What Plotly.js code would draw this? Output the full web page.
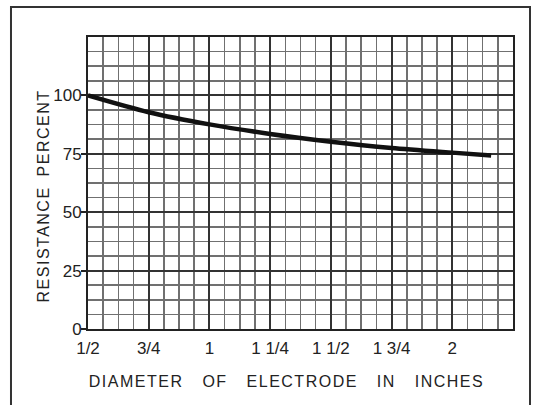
<!DOCTYPE html>
<html><head><meta charset="utf-8">
<script src="https://cdn.plot.ly/plotly-3.0.1.min.js"></script>
<style>
html,body{margin:0;padding:0;background:#fff;}
#chart{width:538px;height:405px;}
.xtitle{letter-spacing:1.5px;word-spacing:13px;}
.ytitle{letter-spacing:1.5px;word-spacing:4px;}
.g-xtitle{transform:translate(-14px,0px);}
.g-ytitle{transform:translate(8px,13px);}
</style></head><body><div id="chart"></div>
<script>
const diameterInches = [0.5, 0.75, 1.0, 1.25, 1.5, 1.75, 2.0, 2.16];
const resistancePercent = [100, 92.8, 87.6, 83.5, 80.2, 77.5, 75.5, 74.3];
const xTickValues = [0.5, 0.75, 1, 1.25, 1.5, 1.75, 2];
const xTickLabels = ["1/2", "3/4", "1", "1 1/4", "1 1/2", "1 3/4", "2"];
const yTickValues = [0, 25, 50, 75, 100];
const yTickLabels = ["0", "25", "50", "75", "100"];

const FONT = '"Liberation Sans", Arial, sans-serif';
const trace = {
  x: diameterInches, y: resistancePercent,
  type: 'scatter', mode: 'lines',
  line: {color: '#111', width: 4.5, shape: 'spline', smoothing: 0.8},
  hoverinfo: 'skip', showlegend: false
};
const layout = {
  width: 538, height: 405,
  margin: {l: 88, r: 25, t: 37, b: 76, pad: 0},
  paper_bgcolor: '#fff', plot_bgcolor: '#fff',
  font: {family: FONT, color: '#222', size: 16},
  xaxis: {
    range: [0.5, 2.25], tickmode: 'array', tickvals: xTickValues, ticktext: xTickLabels,
    showgrid: true, gridcolor: '#333', gridwidth: 2,
    minor: {tickmode: 'linear', tick0: 0.5, dtick: 0.0625, showgrid: true, gridcolor: '#707070', gridwidth: 1.6, ticks: ''},
    showline: true, linecolor: '#222', linewidth: 2, mirror: true,
    ticks: '', zeroline: false, fixedrange: true, ticklabelstandoff: 3,
    tickfont: {family: FONT, size: 17, color: '#222'},
    title: {text: 'DIAMETER OF ELECTRODE IN INCHES', font: {family: FONT, size: 16, color: '#222'}, standoff: 18}
  },
  yaxis: {
    range: [0, 125], tickmode: 'array', tickvals: yTickValues, ticktext: yTickLabels,
    showgrid: true, gridcolor: '#333', gridwidth: 2,
    minor: {tickmode: 'linear', tick0: 0, dtick: 6.25, showgrid: true, gridcolor: '#707070', gridwidth: 1.6, ticks: ''},
    showline: true, linecolor: '#222', linewidth: 2, mirror: true,
    ticks: 'outside', ticklen: 5, tickwidth: 2, tickcolor: '#222', zeroline: false, fixedrange: true,
    ticklabelstandoff: -4,
    tickfont: {family: FONT, size: 17, color: '#222'},
    title: {text: 'RESISTANCE PERCENT', font: {family: FONT, size: 16, color: '#222'}, standoff: 8}
  },
  shapes: [{
    type: 'rect', xref: 'paper', yref: 'paper',
    x0: -0.1812, x1: 1.04, y0: -0.31, y1: 1.1027,
    line: {color: '#333', width: 2}, fillcolor: 'rgba(0,0,0,0)', layer: 'below'
  }]
};
Plotly.newPlot('chart', [trace], layout, {displayModeBar: false, staticPlot: true});
</script></body></html>
